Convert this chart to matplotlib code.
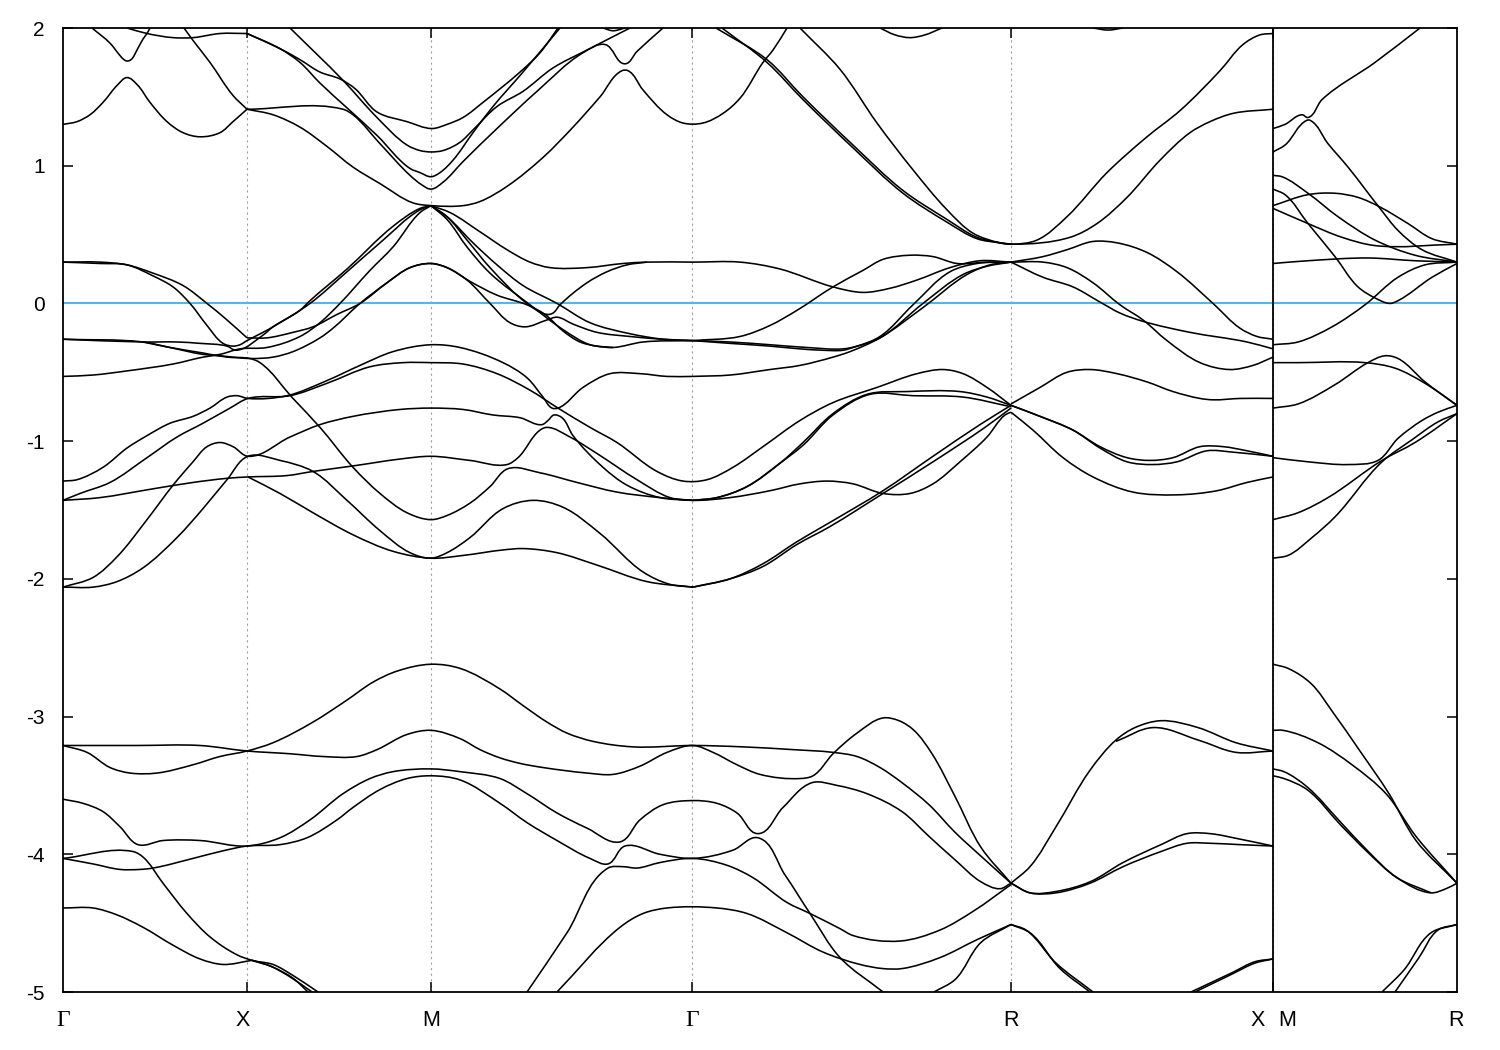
# band structure along G-X-M-G-R-X|M-R
import matplotlib
matplotlib.use('Agg')
import matplotlib.pyplot as plt
from matplotlib.patches import PathPatch
from matplotlib.path import Path
import numpy as np

k_ticks = [63, 247, 431, 692, 1011, 1273, 1457]
y_ticks = [2, 1, 0, -1, -2, -3, -4, -5]
y_labels = ['2', '1', '0', '-1', '-2', '-3', '-4', '-5']
gamma_labels = [(63, 'Γ'), (692, 'Γ')]
point_labels = [(243, 'X'), (431, 'M'), (1011, 'R'), (1258, 'X'), (1287, 'M'), (1456, 'R')]

# upper conduction bands
up_a = ([92, 110, 120, 124, 127, 131, 137, 143, 147, 150], [2.0, 1.89, 1.80, 1.77, 1.76, 1.77, 1.84, 1.92, 1.96, 2.0])
up_b = ([127, 147, 173, 193, 220, 247], [2.0, 1.96, 1.93, 1.93, 1.96, 1.96])
up_c = ([63, 77, 90, 103, 118, 127, 137, 150, 167, 183, 200, 220, 233, 247], [1.30, 1.32, 1.37, 1.46, 1.59, 1.64, 1.59, 1.46, 1.32, 1.24, 1.21, 1.24, 1.32, 1.41])
up_d = ([184, 193, 210, 233, 247], [2.0, 1.91, 1.75, 1.51, 1.41])
up_e = ([247, 280, 300, 320, 340, 355, 377, 407, 432, 447, 463, 483, 520, 540, 558], [1.96, 1.85, 1.77, 1.68, 1.63, 1.56, 1.39, 1.32, 1.27, 1.30, 1.35, 1.46, 1.68, 1.82, 2.0])
up_f = ([290, 343, 377, 407, 420, 431, 443, 460, 473, 497, 523, 553, 587, 630], [2.0, 1.62, 1.35, 1.15, 1.11, 1.10, 1.11, 1.17, 1.26, 1.43, 1.54, 1.71, 1.84, 2.0])
up_g = ([247, 280, 300, 320, 347, 377, 410, 420, 431, 440, 453, 473, 493, 523, 560], [1.96, 1.85, 1.75, 1.60, 1.42, 1.22, 0.98, 0.95, 0.92, 0.95, 1.04, 1.24, 1.43, 1.68, 2.0])
up_h = ([247, 343, 353, 380, 410, 422, 431, 443, 463, 497, 537, 583, 605, 625, 637, 663], [1.41, 1.41, 1.37, 1.16, 0.93, 0.86, 0.83, 0.88, 1.03, 1.27, 1.54, 1.82, 1.88, 1.74, 1.83, 2.0])
up_i = ([247, 273, 300, 327, 353, 380, 413, 432, 463, 480, 507, 543, 573, 600, 622, 628, 643, 667, 683, 703, 723, 740, 763, 773, 787],
        [1.41, 1.37, 1.28, 1.14, 0.99, 0.87, 0.73, 0.71, 0.71, 0.74, 0.85, 1.06, 1.28, 1.50, 1.69, 1.69, 1.55, 1.37, 1.31, 1.31, 1.38, 1.49, 1.75, 1.84, 2.0])
up_j = ([603, 613, 625], [2.0, 1.98, 2.0])
up_k = ([880, 895, 910, 925, 942], [2.0, 1.95, 1.93, 1.95, 2.0])
up_l = ([1093, 1108, 1123], [2.0, 1.985, 2.0])
up_m = ([800, 840, 877, 913, 947, 973, 1000, 1012, 1037, 1067, 1107, 1147, 1180, 1220, 1243, 1260, 1273], [2.0, 1.70, 1.31, 0.97, 0.68, 0.51, 0.44, 0.43, 0.46, 0.63, 0.95, 1.21, 1.40, 1.69, 1.88, 1.95, 1.96])
up_n = ([716, 767, 803, 853, 903, 947, 977, 1000, 1012, 1070, 1097, 1127, 1160, 1190, 1210, 1233, 1273], [2.0, 1.77, 1.50, 1.15, 0.82, 0.61, 0.48, 0.44, 0.43, 0.48, 0.58, 0.77, 1.04, 1.24, 1.32, 1.38, 1.41])
up_o = ([722, 767, 803, 853, 903, 947, 977, 1000, 1012], [2.0, 1.75, 1.48, 1.13, 0.80, 0.59, 0.47, 0.44, 0.43])

# bands around the Fermi level
fe_a = ([63, 100, 127, 153, 183, 207, 227, 247], [0.30, 0.30, 0.28, 0.22, 0.13, 0.0, -0.12, -0.25])
fe_b = ([63, 100, 127, 153, 173, 190, 207, 223, 233, 240, 247, 263, 273, 310, 347, 380, 420, 431], [0.30, 0.29, 0.28, 0.20, 0.12, 0.0, -0.16, -0.29, -0.31, -0.30, -0.27, -0.21, -0.17, 0.0, 0.23, 0.44, 0.68, 0.71])
fe_c = ([63, 143, 177, 200, 227, 236, 263, 273, 300, 310, 347, 393, 420, 431], [-0.26, -0.28, -0.28, -0.29, -0.31, -0.34, -0.23, -0.17, -0.05, 0.02, 0.25, 0.56, 0.69, 0.71])
fe_d = ([63, 93, 127, 173, 203, 220, 240, 267, 300, 320, 340, 370, 393, 420, 431], [-0.53, -0.52, -0.49, -0.44, -0.39, -0.37, -0.33, -0.32, -0.24, -0.14, 0.0, 0.24, 0.41, 0.66, 0.71])
fe_e = ([247, 267, 293, 313, 337, 360, 387, 410, 431, 447, 467, 490, 510, 525, 547, 557, 573, 597, 630, 663, 693], [-0.25, -0.25, -0.21, -0.17, -0.08, 0.0, 0.15, 0.26, 0.29, 0.26, 0.17, 0.0, -0.14, -0.17, -0.12, -0.10, -0.15, -0.21, -0.24, -0.26, -0.27])
fe_f = ([63, 143, 170, 203, 220, 250, 273, 293, 320, 333, 360, 387, 410, 431, 447, 470, 497, 527, 545, 563, 580, 597, 613, 643, 693], [-0.26, -0.28, -0.32, -0.37, -0.38, -0.40, -0.39, -0.35, -0.25, -0.18, 0.0, 0.15, 0.26, 0.29, 0.26, 0.16, 0.06, -0.01, -0.08, -0.20, -0.28, -0.31, -0.32, -0.28, -0.27])
fe_g = ([431, 450, 480, 507, 530, 550, 587, 623, 647, 693, 740, 780, 833, 863, 890, 917, 950, 980, 1011], [0.71, 0.66, 0.52, 0.39, 0.30, 0.26, 0.26, 0.29, 0.30, 0.30, 0.30, 0.25, 0.12, 0.08, 0.11, 0.17, 0.26, 0.31, 0.30])
fe_h = ([431, 447, 473, 497, 523, 557, 590, 630, 663, 693], [0.71, 0.63, 0.44, 0.28, 0.13, 0.0, -0.14, -0.22, -0.26, -0.27])
fe_i = ([431, 447, 467, 490, 527, 547, 553, 560, 587, 607, 627, 647], [0.71, 0.63, 0.46, 0.26, 0.0, -0.08, -0.07, -0.01, 0.15, 0.23, 0.28, 0.30])
fe_j = ([431, 447, 467, 490, 530, 563, 590, 613], [0.71, 0.61, 0.41, 0.22, -0.01, -0.19, -0.30, -0.32])
fe_k = ([693, 740, 770, 797, 833, 863, 883, 910, 933, 957, 987, 1011], [-0.27, -0.24, -0.16, -0.05, 0.12, 0.24, 0.32, 0.35, 0.34, 0.29, 0.30, 0.30])
fe_l = ([693, 730, 770, 807, 843, 857, 880, 913, 950, 977, 1011], [-0.27, -0.28, -0.30, -0.32, -0.33, -0.31, -0.24, -0.01, 0.23, 0.29, 0.30])
fe_m = ([693, 730, 770, 800, 823, 843, 853, 880, 923, 963, 987, 1011], [-0.27, -0.29, -0.31, -0.33, -0.34, -0.34, -0.32, -0.25, 0.0, 0.21, 0.27, 0.30])
fe_n = ([693, 730, 770, 800, 833, 850, 880, 923, 967, 990, 1011], [-0.53, -0.52, -0.48, -0.45, -0.39, -0.35, -0.25, -0.03, 0.21, 0.28, 0.30])
fe_o = ([1011, 1043, 1067, 1093, 1117, 1147, 1177, 1213, 1240, 1257, 1273], [0.30, 0.34, 0.39, 0.45, 0.44, 0.37, 0.23, 0.0, -0.18, -0.24, -0.26])
fe_p = ([1011, 1043, 1067, 1093, 1120, 1143, 1167, 1200, 1230, 1253, 1273], [0.30, 0.30, 0.26, 0.15, -0.01, -0.12, -0.27, -0.43, -0.48, -0.45, -0.39])
fe_q = ([1011, 1043, 1073, 1100, 1120, 1143, 1190, 1247, 1273], [0.30, 0.19, 0.12, 0.01, -0.07, -0.13, -0.21, -0.28, -0.33])

# valence bands between -0.3 and -2.1
mi_a = ([63, 77, 103, 127, 147, 170, 193, 210, 227, 237, 248, 287, 327, 360, 393, 431, 460, 503, 527, 543, 552, 558, 583, 610, 640, 667, 693], [-1.29, -1.28, -1.19, -1.05, -0.96, -0.87, -0.82, -0.76, -0.68, -0.67, -0.69, -0.67, -0.56, -0.45, -0.35, -0.30, -0.32, -0.43, -0.54, -0.68, -0.76, -0.76, -0.61, -0.51, -0.51, -0.53, -0.53])
mi_b = ([63, 80, 110, 147, 177, 203, 230, 248, 290, 327, 370, 403, 431, 463, 497, 530, 558, 590, 617, 657, 683, 707, 733, 763, 800, 833, 877, 917, 943, 963, 987, 1011], [-1.43, -1.38, -1.30, -1.12, -0.97, -0.87, -0.76, -0.69, -0.67, -0.58, -0.46, -0.43, -0.43, -0.44, -0.51, -0.63, -0.76, -0.90, -1.01, -1.22, -1.29, -1.28, -1.19, -1.04, -0.85, -0.72, -0.61, -0.51, -0.48, -0.51, -0.61, -0.74])
mi_c = ([63, 100, 150, 193, 227, 248, 287, 313, 353, 400, 431, 470, 507, 518, 540, 547, 570, 597, 637, 670, 693, 730, 770, 800, 827, 853, 883, 910, 933, 960, 987, 1005, 1011], [-1.43, -1.41, -1.35, -1.30, -1.27, -1.26, -1.25, -1.22, -1.18, -1.13, -1.11, -1.14, -1.17, -1.12, -0.92, -0.90, -0.97, -1.09, -1.28, -1.41, -1.43, -1.41, -1.36, -1.31, -1.29, -1.31, -1.38, -1.38, -1.31, -1.15, -0.97, -0.81, -0.79])
mi_d = ([63, 93, 117, 147, 173, 193, 207, 220, 233, 248, 290, 320, 353, 400, 431, 463, 493, 520, 542, 548, 554, 562, 573, 603, 627, 660, 693], [-2.06, -1.99, -1.84, -1.57, -1.32, -1.15, -1.04, -1.01, -1.04, -1.11, -0.97, -0.88, -0.82, -0.77, -0.76, -0.77, -0.81, -0.83, -0.88, -0.85, -0.81, -0.83, -0.96, -1.19, -1.32, -1.41, -1.43])
mi_e = ([63, 93, 117, 143, 177, 203, 227, 248, 280, 313, 347, 380, 410, 431, 447, 470, 503, 533, 563, 600, 643, 670, 693], [-2.06, -2.06, -2.02, -1.92, -1.70, -1.49, -1.28, -1.11, -1.14, -1.22, -1.43, -1.65, -1.81, -1.85, -1.81, -1.70, -1.49, -1.43, -1.48, -1.67, -1.95, -2.04, -2.06])
mi_f = ([143, 170, 203, 227, 250, 260, 293, 320, 353, 380, 407, 431, 447, 470, 490, 508, 540, 577, 617, 660, 693], [-0.28, -0.32, -0.36, -0.39, -0.40, -0.43, -0.69, -0.90, -1.19, -1.38, -1.52, -1.57, -1.54, -1.45, -1.33, -1.20, -1.23, -1.30, -1.37, -1.41, -1.43])
mi_g = ([248, 280, 313, 353, 393, 431, 463, 503, 523, 557, 597, 647, 693], [-1.26, -1.38, -1.52, -1.68, -1.80, -1.85, -1.83, -1.79, -1.78, -1.81, -1.90, -2.02, -2.06])
mi_h = ([693, 717, 747, 780, 803, 833, 867, 907, 960, 987, 1011], [-1.43, -1.41, -1.33, -1.16, -1.01, -0.80, -0.66, -0.64, -0.64, -0.68, -0.74])
mi_i = ([693, 717, 747, 780, 803, 833, 870, 913, 963, 1011], [-1.43, -1.41, -1.33, -1.16, -1.03, -0.81, -0.66, -0.67, -0.68, -0.75])
mi_j = ([693, 730, 763, 797, 830, 883, 933, 980, 1011], [-2.06, -2.0, -1.89, -1.73, -1.59, -1.36, -1.11, -0.88, -0.74])
mi_k = ([693, 730, 763, 797, 830, 883, 933, 985, 1011], [-2.06, -2.0, -1.91, -1.75, -1.62, -1.38, -1.15, -0.90, -0.76])
mi_l = ([1011, 1040, 1067, 1090, 1117, 1147, 1173, 1200, 1213, 1240, 1273], [-0.73, -0.61, -0.50, -0.48, -0.51, -0.57, -0.64, -0.69, -0.70, -0.69, -0.69])
mi_m = ([1011, 1040, 1073, 1100, 1127, 1150, 1173, 1200, 1223, 1247, 1273], [-0.74, -0.82, -0.92, -1.04, -1.12, -1.14, -1.12, -1.04, -1.04, -1.07, -1.11])
mi_n = ([1011, 1040, 1073, 1100, 1127, 1153, 1177, 1207, 1233, 1273], [-0.74, -0.82, -0.92, -1.05, -1.15, -1.17, -1.15, -1.07, -1.08, -1.11])
mi_o = ([1011, 1033, 1063, 1093, 1133, 1177, 1217, 1247, 1273], [-0.79, -0.92, -1.12, -1.26, -1.37, -1.39, -1.36, -1.30, -1.26])

# deep bands
de_a = ([63, 137, 200, 247, 290, 323, 357, 377, 407, 431, 460, 480, 500, 520, 543, 587, 613, 640, 667, 693, 713, 737, 760, 800, 813, 833, 857, 883, 899, 914, 932, 955, 981, 1011], [-3.21, -3.21, -3.21, -3.25, -3.27, -3.29, -3.29, -3.24, -3.13, -3.10, -3.16, -3.24, -3.30, -3.34, -3.37, -3.41, -3.42, -3.36, -3.26, -3.21, -3.26, -3.35, -3.42, -3.45, -3.43, -3.27, -3.12, -3.01, -3.03, -3.10, -3.27, -3.58, -3.95, -4.21])
de_b = ([63, 87, 110, 130, 157, 193, 220, 247, 273, 313, 347, 373, 397, 431, 460, 500, 523, 547, 567, 593, 633, 693, 743, 793, 833, 857, 880, 902, 929, 955, 985, 1011], [-3.21, -3.26, -3.37, -3.41, -3.41, -3.35, -3.29, -3.25, -3.19, -3.04, -2.88, -2.75, -2.67, -2.62, -2.65, -2.80, -2.92, -3.04, -3.12, -3.18, -3.22, -3.21, -3.22, -3.24, -3.26, -3.29, -3.37, -3.48, -3.64, -3.84, -4.04, -4.21])
de_c = ([63, 83, 103, 120, 138, 163, 200, 247, 280, 310, 343, 370, 393, 431, 460, 500, 527, 557, 587, 620, 640, 663, 693, 717, 737, 758, 783, 812, 837, 867, 902, 929, 955, 981, 1000, 1011], [-3.60, -3.63, -3.69, -3.80, -3.93, -3.90, -3.90, -3.94, -3.88, -3.75, -3.56, -3.45, -3.40, -3.38, -3.40, -3.45, -3.56, -3.70, -3.81, -3.91, -3.75, -3.64, -3.61, -3.63, -3.70, -3.85, -3.66, -3.48, -3.50, -3.56, -3.69, -3.87, -4.04, -4.20, -4.25, -4.21])
de_d = ([63, 133, 143, 163, 187, 210, 237, 252, 273, 293, 318], [-4.03, -3.98, -4.02, -4.21, -4.43, -4.60, -4.73, -4.77, -4.80, -4.88, -5.0])
de_e = ([252, 270, 290, 312], [-4.77, -4.81, -4.89, -5.0])
de_f = ([252, 273, 293, 308], [-4.77, -4.82, -4.90, -5.0])
de_g = ([63, 93, 120, 140, 153, 193, 220, 247, 280, 307, 337, 353, 380, 407, 431, 460, 500, 527, 557, 590, 608, 625, 660, 693, 733, 758, 785, 810, 840, 883], [-4.03, -4.07, -4.11, -4.11, -4.10, -4.03, -3.98, -3.94, -3.93, -3.88, -3.75, -3.66, -3.53, -3.45, -3.43, -3.46, -3.63, -3.77, -3.90, -4.03, -4.07, -3.94, -4.0, -4.03, -3.97, -3.88, -4.15, -4.43, -4.75, -5.0])
de_h = ([63, 93, 117, 143, 173, 200, 223, 252], [-4.39, -4.39, -4.44, -4.53, -4.66, -4.76, -4.80, -4.77])
de_i = ([527, 567, 608, 623, 637, 660, 693, 727, 753, 787, 810, 840, 853, 900, 940, 974, 1011], [-5.0, -4.57, -4.10, -4.09, -4.10, -4.06, -4.03, -4.08, -4.17, -4.35, -4.43, -4.54, -4.59, -4.63, -4.55, -4.41, -4.22])
de_j = ([557, 620, 643, 667, 717, 747, 787, 823, 860, 883, 902, 940, 977, 1011], [-5.0, -4.53, -4.43, -4.39, -4.39, -4.43, -4.57, -4.71, -4.80, -4.83, -4.83, -4.75, -4.62, -4.51])
de_k = ([934, 955, 981, 1011], [-5.0, -4.91, -4.64, -4.51])
de_l = ([1011, 1030, 1056, 1090, 1123, 1161, 1187, 1210, 1240, 1273], [-4.21, -4.28, -4.27, -4.20, -4.06, -3.93, -3.85, -3.85, -3.89, -3.94])
de_m = ([1011, 1030, 1056, 1090, 1123, 1161, 1187, 1210, 1240, 1273], [-4.21, -4.28, -4.28, -4.21, -4.09, -3.98, -3.92, -3.92, -3.93, -3.94])
de_n = ([1011, 1030, 1056, 1090, 1116, 1135, 1161, 1198, 1236, 1273], [-4.21, -4.09, -3.80, -3.39, -3.17, -3.08, -3.03, -3.08, -3.19, -3.25])
de_o = ([1116, 1153, 1198, 1236, 1273], [-3.18, -3.08, -3.17, -3.26, -3.25])
de_p = ([1011, 1026, 1056, 1093], [-4.51, -4.55, -4.79, -5.0])
de_q = ([1011, 1030, 1060, 1090], [-4.51, -4.57, -4.83, -5.0])
de_r = ([1191, 1232, 1255, 1273], [-5.0, -4.86, -4.78, -4.76])
de_s = ([1195, 1232, 1255, 1273], [-5.0, -4.87, -4.79, -4.76])

# last M-R piece
mr_a = ([1273, 1285, 1302, 1308, 1322, 1375, 1420], [1.27, 1.30, 1.37, 1.35, 1.48, 1.75, 2.0])
mr_b = ([1273, 1285, 1307, 1310, 1328, 1348, 1380, 1398, 1422, 1457], [1.10, 1.15, 1.33, 1.33, 1.16, 0.99, 0.69, 0.53, 0.39, 0.30])
mr_c = ([1273, 1282, 1308, 1338, 1375, 1415, 1457], [0.93, 0.92, 0.80, 0.63, 0.46, 0.35, 0.30])
mr_d = ([1273, 1285, 1308, 1335, 1358, 1375, 1390, 1398, 1432, 1457], [0.83, 0.79, 0.58, 0.34, 0.12, 0.04, 0.0, 0.02, 0.19, 0.29])
mr_e = ([1273, 1308, 1335, 1358, 1380, 1408, 1432, 1457], [0.71, 0.79, 0.80, 0.77, 0.70, 0.58, 0.47, 0.43])
mr_f = ([1273, 1308, 1342, 1375, 1457], [0.69, 0.58, 0.48, 0.42, 0.43])
mr_g = ([1273, 1308, 1368, 1415, 1457], [0.29, 0.31, 0.33, 0.31, 0.30])
mr_h = ([1273, 1298, 1332, 1365, 1398, 1425, 1457], [-0.30, -0.28, -0.17, -0.01, 0.19, 0.28, 0.30])
mr_i = ([1273, 1298, 1365, 1395, 1425, 1457], [-0.43, -0.43, -0.43, -0.47, -0.58, -0.74])
mr_j = ([1273, 1298, 1335, 1368, 1385, 1398, 1425, 1457], [-0.76, -0.73, -0.59, -0.43, -0.38, -0.40, -0.57, -0.74])
mr_k = ([1273, 1308, 1348, 1378, 1398, 1422, 1438, 1457], [-1.12, -1.15, -1.17, -1.14, -0.98, -0.85, -0.79, -0.74])
mr_l = ([1273, 1298, 1328, 1382, 1415, 1457], [-1.57, -1.52, -1.41, -1.14, -1.01, -0.80])
mr_m = ([1273, 1288, 1312, 1335, 1382, 1412, 1438, 1457], [-1.85, -1.83, -1.70, -1.55, -1.15, -0.99, -0.86, -0.80])
mr_n = ([1273, 1288, 1311, 1333, 1359, 1389, 1416, 1457], [-2.62, -2.65, -2.76, -2.97, -3.24, -3.56, -3.90, -4.21])
mr_o = ([1273, 1283, 1318, 1352, 1386, 1416, 1457], [-3.10, -3.10, -3.19, -3.35, -3.56, -3.87, -4.21])
mr_p = ([1273, 1284, 1307, 1341, 1367, 1397, 1431, 1446, 1457], [-3.38, -3.40, -3.51, -3.77, -3.97, -4.17, -4.28, -4.25, -4.21])
mr_q = ([1273, 1284, 1307, 1341, 1367, 1397, 1431], [-3.43, -3.45, -3.53, -3.79, -3.98, -4.17, -4.28])
mr_r = ([1382, 1404, 1431, 1457], [-5.0, -4.84, -4.57, -4.51])
mr_s = ([1395, 1419, 1438, 1457], [-5.0, -4.75, -4.55, -4.51])

bands = [up_a, up_b, up_c, up_d, up_e, up_f, up_g, up_h, up_i, up_j, up_k, up_l, up_m, up_n, up_o,
         fe_a, fe_b, fe_c, fe_d, fe_e, fe_f, fe_g, fe_h, fe_i, fe_j, fe_k, fe_l, fe_m, fe_n, fe_o, fe_p, fe_q,
         mi_a, mi_b, mi_c, mi_d, mi_e, mi_f, mi_g, mi_h, mi_i, mi_j, mi_k, mi_l, mi_m, mi_n, mi_o,
         de_a, de_b, de_c, de_d, de_e, de_f, de_g, de_h, de_i, de_j, de_k, de_l, de_m, de_n, de_o, de_p, de_q, de_r, de_s,
         mr_a, mr_b, mr_c, mr_d, mr_e, mr_f, mr_g, mr_h, mr_i, mr_j, mr_k, mr_l, mr_m, mr_n, mr_o, mr_p, mr_q, mr_r, mr_s]


def band_path(k_vals, e_vals, e_scale=964 / 7):
    # bezier curve through the read points, tangents along the bisector
    pts = np.column_stack([k_vals, e_vals]).astype(float)
    pts[:, 1] *= e_scale
    seg = np.diff(pts, axis=0)
    dist = np.hypot(seg[:, 0], seg[:, 1])
    unit = seg / dist[:, None]
    tang = np.vstack([unit[0], unit[:-1] + unit[1:], unit[-1]])
    tang /= np.maximum(np.hypot(tang[:, 0], tang[:, 1]), 1e-9)[:, None]
    verts = [pts[0]]
    codes = [Path.MOVETO]
    for i in range(len(seg)):
        verts += [pts[i] + tang[i] * dist[i] / 3, pts[i + 1] - tang[i + 1] * dist[i] / 3, pts[i + 1]]
        codes += [Path.CURVE4] * 3
    verts = np.array(verts)
    verts[:, 1] /= e_scale
    return Path(verts, codes)


plt.rcParams['font.family'] = ['Liberation Sans', 'DejaVu Sans']

fig = plt.figure(figsize=(15, 10.5), dpi=100)
ax = fig.add_axes([63 / 1500, 58 / 1050, 1394 / 1500, 964 / 1050])

for k in k_ticks[1:-1]:
    ax.axvline(k, color='#a0a0a0', lw=0.8, ls=(0, (2, 3)), zorder=1)
ax.axhline(0, color='#56b4e9', lw=1.5, zorder=2)

for k_vals, e_vals in bands:
    ax.add_patch(PathPatch(band_path(k_vals, e_vals), fc='none', ec='black', lw=1.15, zorder=3))
# jump between the X and M parts of the path
ax.plot([1273, 1273], [-5, 2], color='black', lw=1.3, zorder=4)

ax.set_xlim(63, 1457)
ax.set_ylim(-5, 2)
ax.set_xticks(k_ticks[1:-1])
ax.set_xticklabels([])
ax.set_yticks(y_ticks)
ax.set_yticklabels(y_labels, fontsize=15)
ax.tick_params(axis='both', direction='in', length=7.5, width=1.1, top=True, right=True, color='black')
ax.tick_params(axis='y', pad=13)
for spine in ax.spines.values():
    spine.set_linewidth(1.3)

trans = ax.get_xaxis_transform()
for k, name in point_labels:
    ax.text(k, -0.03, name, transform=trans, ha='center', va='center', fontsize=15.5)
for k, name in gamma_labels:
    ax.text(k, -0.03, name, transform=trans, ha='center', va='center', fontsize=17, family=['Liberation Serif', 'DejaVu Serif'])

fig.savefig('out.png', dpi=100)
plt.close(fig)
